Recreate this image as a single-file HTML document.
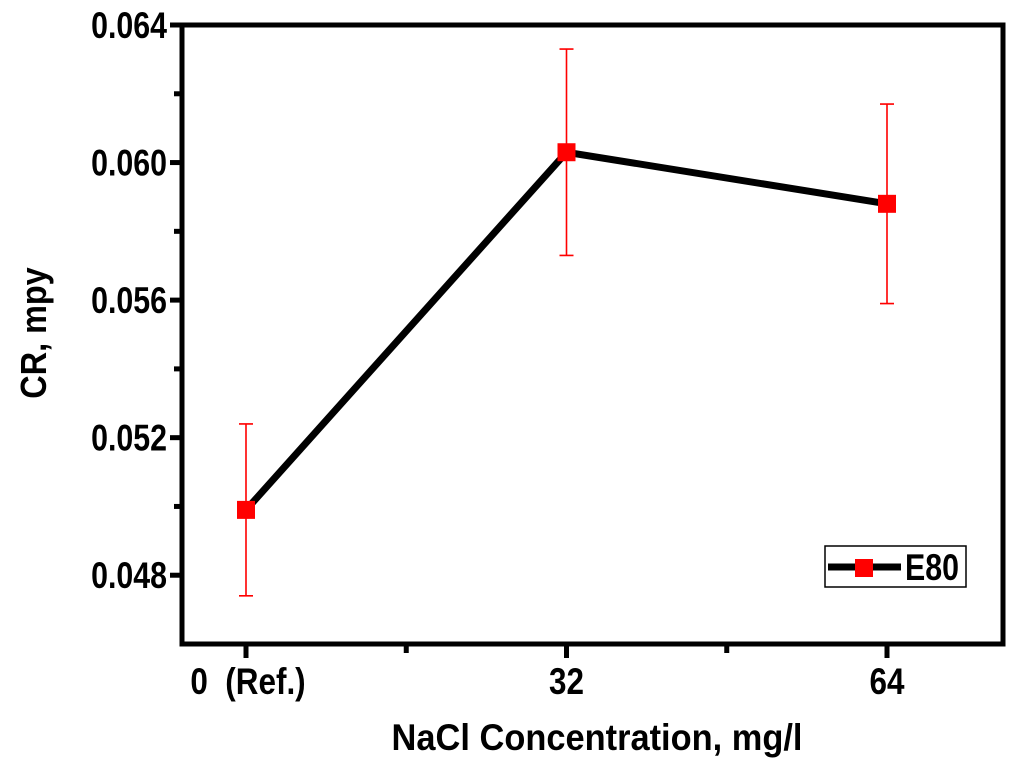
<!DOCTYPE html>
<html><head><meta charset="utf-8"><style>
body{margin:0;background:#fff}
svg{display:block;font-family:"Liberation Sans",Arial,sans-serif;font-weight:bold}
</style></head><body>
<svg id="chart" width="1024" height="765" viewBox="0 0 1024 765">
<rect x="0" y="0" width="1024" height="765" fill="#fff"/>
<g id="g"></g>
</svg>
<script>
const categories=["0  (Ref.)","32","64"];
const crValues=[0.0499,0.0603,0.0588];
const crErrors=[0.0025,0.0030,0.0029];
const yTicks=[0.048,0.052,0.056,0.060,0.064];
const yMinorTicks=[0.050,0.054,0.058,0.062];
const yMin=0.046,yMax=0.064;
const L=182,R=1003,T=25,B=644;
function y(v){return B-(v-yMin)/(yMax-yMin)*(B-T);}
function x(i){return 246+i*320.5;}
const NS="http://www.w3.org/2000/svg";
const g=document.getElementById('g');
function mk(tag,attrs,parent){const e=document.createElementNS(NS,tag);for(const k in attrs)e.setAttribute(k,attrs[k]);(parent||g).appendChild(e);return e;}
let e;
e=mk('rect',{x:L,y:T,width:R-L,height:B-T,fill:'none',stroke:'#000','stroke-width':5});


yTicks.forEach(v=>{
 e=mk('line',{x1:L-12,x2:L,y1:y(v),y2:y(v),stroke:'#000','stroke-width':5});
 
 
 e=mk('text',{x:0,y:0,'text-anchor':'end','font-size':37,fill:'#000',transform:`translate(${L-15},${y(v)+13}) scale(0.82,1)`});
 e.textContent=v.toFixed(3);
 
 
});
yMinorTicks.forEach(v=>{
 e=mk('line',{x1:L-8,x2:L,y1:y(v),y2:y(v),stroke:'#000','stroke-width':5});
 
 
});
categories.forEach((c,i)=>{
 e=mk('line',{x1:x(i),x2:x(i),y1:B,y2:B+14,stroke:'#000','stroke-width':5});
 
 
 e=mk('text',{x:0,y:0,'text-anchor':'middle','font-size':37,fill:'#000',transform:`translate(${x(i)+(i==0?2:0)},${B+50}) scale(0.85,1)`});
 e.textContent=c;
 e.style.whiteSpace='pre';
 
 
 if(i<categories.length-1){
  e=mk('line',{x1:x(i+0.5),x2:x(i+0.5),y1:B,y2:B+9,stroke:'#000','stroke-width':5});
  
  
 }
});
e=mk('text',{x:0,y:0,'text-anchor':'middle','font-size':37,fill:'#000',transform:'translate(597,750) scale(0.93,1)'});
e.textContent='NaCl Concentration, mg/l';


e=mk('text',{x:0,y:0,'text-anchor':'middle','font-size':36,fill:'#000',transform:'translate(46,333) rotate(-90) scale(0.9,1)'});
e.textContent='CR, mpy';


crValues.forEach((v,i)=>{
 const t=y(v+crErrors[i]),b=y(v-crErrors[i]);
 e=mk('path',{d:`M${x(i)},${t}V${b}M${x(i)-7},${t}H${x(i)+7}M${x(i)-7},${b}H${x(i)+7}`,stroke:'#f00','stroke-width':1.6,fill:'none'});
 
 
});
e=mk('polyline',{points:crValues.map((v,i)=>x(i)+','+y(v)).join(' '),fill:'none',stroke:'#000','stroke-width':7});


crValues.forEach((v,i)=>{
 e=mk('rect',{x:x(i)-9,y:y(v)-9,width:18,height:18,fill:'#f00'});
 
 
});
const lg=mk('g',{});


mk('rect',{x:825,y:546,width:141,height:41,fill:'#fff',stroke:'#000','stroke-width':1.5},lg);
mk('line',{x1:828,x2:901,y1:567,y2:567,stroke:'#000','stroke-width':7},lg);
mk('rect',{x:855,y:559,width:18,height:18,fill:'#f00'},lg);
e=mk('text',{x:0,y:0,'font-size':37,fill:'#000',transform:'translate(905,580) scale(0.82,1)'},lg);
e.textContent='E80';


</script>
</body></html>
